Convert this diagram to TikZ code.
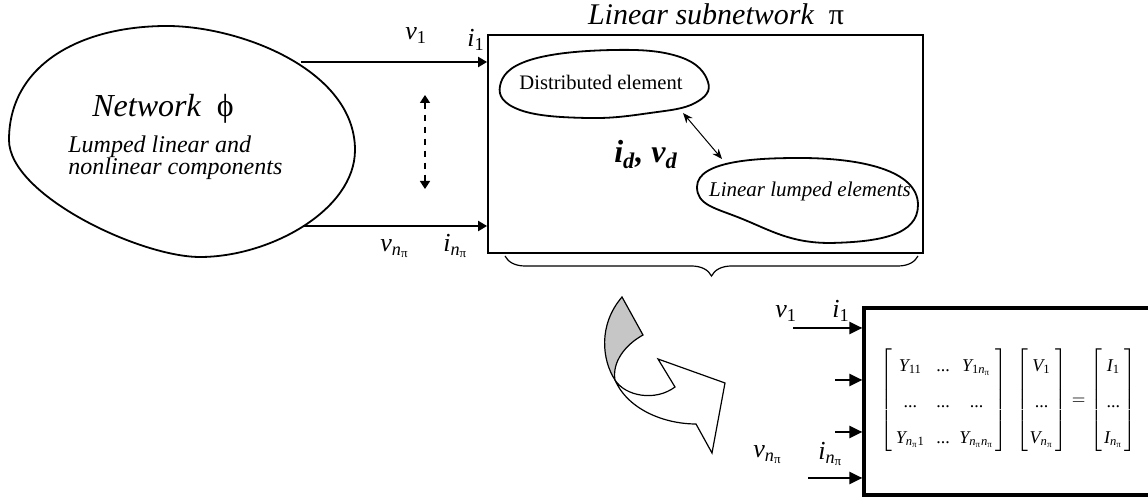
\documentclass[tikz,border=0pt]{standalone}
\usepackage{fontspec}
\setmainfont{Liberation Serif}
\usepackage{amsmath}
\usepackage{graphicx}
\usetikzlibrary{arrows.meta,decorations.pathreplacing}
\newcommand{\npi}{\textit{n}_{\text{π}}}
\newcommand{\tY}{\textit{Y}}
\newcommand{\dd}{\text{...}}
\begin{document}
\begin{tikzpicture}[x=0.5pt,y=-0.5pt,
  shapeline/.style={line width=0.9pt},
  arr/.style={line width=1pt,-{Triangle[length=4.5pt,width=5pt]}},
  marr/.style={line width=1.1pt,-{Triangle[length=6.5pt,width=6pt]}},
  lab/.style={anchor=base west,inner sep=0pt,font=\fontsize{13}{15}\selectfont},
  txt/.style={anchor=base,inner sep=0pt},
  subbox/.style={draw,line width=0.9pt,minimum width=217.5pt,minimum height=109pt,inner sep=0pt},
  mbox/.style={draw,line width=1.6pt,minimum width=148pt,minimum height=93.5pt,inner sep=0pt}]
\useasboundingbox (0,0) rectangle (1148,501);

% Network phi blob
\draw[shapeline] (9,140) .. controls (9,65) and (80,26) .. (167,26)
  .. controls (240,26) and (355,70) .. (355,150)
  .. controls (355,210) and (270,257) .. (200,257)
  .. controls (140,257) and (9,195) .. (9,140) -- cycle;
\node[txt,font=\fontsize{16}{18}\selectfont\itshape] (net) at (163,117) {Network\ \ \upshape ϕ};
\node[anchor=base west,inner sep=0pt,font=\fontsize{12}{14}\selectfont\itshape] (lump1) at (68,153) {Lumped linear and};
\node[anchor=base west,inner sep=0pt,font=\fontsize{12}{14}\selectfont\itshape] (lump2) at (68,175) {nonlinear components};

% subnetwork box
\node[subbox] (sub) at (705.5,144) {};
\node[txt,font=\fontsize{15}{17}\selectfont\itshape] (title) at (716,25) {Linear subnetwork\ \ \upshape π};

\coordinate (p1) at (301,62);
\coordinate (pn) at (304,226);
\draw[arr] (p1) -- (p1 -| sub.west);
\draw[arr] (pn) -- (pn -| sub.west);
\node[lab] (v1) at (405,40) {$\textit{v}_{\text{1}}$};
\node[lab] (i1) at (467,47) {$\textit{i}_{\text{1}}$};
\node[lab] (vn) at (380,252) {$\textit{v}_{\npi}$};
\node[lab] (in) at (443,252) {$\textit{i}_{\npi}$};

\coordinate (dt) at (425,95);
\coordinate (db) at (425,189);
\draw[line width=0.8pt,dash pattern=on 3pt off 3pt,{Triangle[length=4pt,width=5pt]}-{Triangle[length=4pt,width=5pt]}] (dt) -- (db);

% distributed element
\draw[shapeline] plot[smooth cycle, tension=0.7] coordinates {(500,86) (530,60) (613,50) (680,57) (708,82) (695,103) (650,113) (587,118) (520,110)};
\node[txt,font=\fontsize{10.3}{12}\selectfont] (dist) at (601,90) {Distributed element};

% linear lumped elements
\draw[shapeline] (697,187) .. controls (697,160) and (760,158) .. (800,158)
  .. controls (860,158) and (918,170) .. (918,205)
  .. controls (918,235) and (880,242) .. (830,243)
  .. controls (790,243) and (770,230) .. (740,218)
  .. controls (715,208) and (697,205) .. (697,187) -- cycle;
\node[txt,font=\fontsize{10.5}{12}\selectfont\itshape] (lle) at (810,197) {Linear lumped elements};

\coordinate (da) at (683,113);
\coordinate (la) at (722,159);
\draw[line width=0.5pt,{Stealth[length=5pt,width=4pt]}-{Stealth[length=5pt,width=4pt]}] (da) -- (la);
\node[txt,font=\fontsize{16}{18}\selectfont\bfseries\itshape] (idvd) at (646,163) {i\textsubscript{d}, v\textsubscript{d}};

% brace
\coordinate (bl) at (505,256);
\coordinate (br) at (918,256);
\draw[line width=0.6pt,decorate,decoration={brace,mirror,amplitude=10pt}] (bl) -- (br);

% curved arrow
\draw[line width=0.6pt,fill=gray!45] (622,297) -- (643,335) .. controls (625,345) and (612,362) .. (615,380) .. controls (602,360) and (598,325) .. (622,297) -- cycle;
\draw[line width=0.6pt,fill=white] (615,380) .. controls (625,396) and (655,402) .. (675,387) -- (658,359) -- (725,383) -- (712,453) -- (696,424) .. controls (665,424) and (628,410) .. (615,380) -- cycle;

% matrix box
\node[mbox] (mb) at (1012,401.5) {};
\coordinate (q1) at (793,328);
\coordinate (q2) at (835,380);
\coordinate (q3) at (835,432);
\coordinate (q4) at (808,478);
\draw[marr] (q1) -- (q1 -| mb.west);
\draw[marr] (q2) -- (q2 -| mb.west);
\draw[marr] (q3) -- (q3 -| mb.west);
\draw[marr] (q4) -- (q4 -| mb.west);
\node[lab] (mv1) at (775,318) {$\textit{v}_{\text{1}}$};
\node[lab] (mi1) at (832,318) {$\textit{i}_{\text{1}}$};
\node[lab] (mvn) at (753,458) {$\textit{v}_{\npi}$};
\node[lab] (min) at (818,460) {$\textit{i}_{\npi}$};

\node[anchor=west,inner sep=0pt,font=\fontsize{9.5}{10}\selectfont] (eq) at (880,400) {\resizebox{128pt}{!}{\renewcommand{\arraystretch}{1.9}$\left[\begin{array}{@{\hspace{2pt}}c@{\hspace{6pt}}c@{\hspace{5pt}}c@{\hspace{1pt}}}\tY_{\text{11}} & \dd & \tY_{\text{1}\npi}\\ \dd&\dd&\dd\\ \tY_{\npi\text{1}} & \dd & \tY_{\npi\npi}\end{array}\right]\hspace{3pt}\left[\begin{array}{@{\hspace{1pt}}c@{\hspace{1pt}}}\textit{V}_{\text{1}}\\ \dd\\ \textit{V}_{\npi}\end{array}\right] = \left[\begin{array}{@{\hspace{1pt}}c@{\hspace{1pt}}}\textit{I}_{\text{1}}\\ \dd\\ \textit{I}_{\npi}\end{array}\right]$}};
\end{tikzpicture}
\end{document}
